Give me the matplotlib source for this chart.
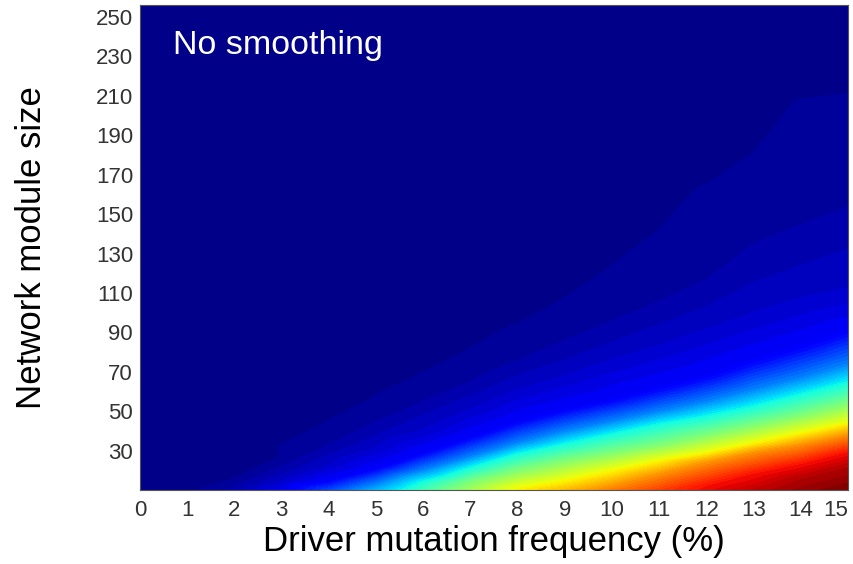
import numpy as np
import matplotlib.pyplot as plt
import matplotlib.tri as mtri

plt.rcParams["font.family"] = ["Liberation Sans", "DejaVu Sans"]

# Columns of the map (driver mutation frequency, %)
freq = [0, 1, 2, 3, 4, 5, 6, 7, 8, 9, 10, 11, 12, 13, 14, 15]

# Value along the bottom edge (module size 10) and at the top edge (256)
bottom_size = 10
top_size = 256
bottom_val = [0.0, 0.01, 0.037, 0.095, 0.19, 0.30, 0.425, 0.543, 0.646, 0.71,
              0.775, 0.84, 0.90, 0.94, 0.975, 1.0]
top_val = [0.0, 0.002, 0.004, 0.005, 0.006, 0.006, 0.006, 0.007, 0.007, 0.007,
           0.008, 0.008, 0.008, 0.008, 0.008, 0.008]

# Read-off iso-value heights (network module size) per column; nan = not reached
nan = np.nan
iso_levels = [0.95, 0.89, 0.75, 0.64, 0.5, 0.375, 0.25, 0.11, 0.065, 0.047, 0.031, 0.016]
iso_heights = [
    [nan, nan, nan, nan, nan, nan, nan, nan, nan, nan, nan, nan, nan, nan, 16, 22],
    [nan, nan, nan, nan, nan, nan, nan, nan, nan, nan, nan, nan, 12, 18, 23, 29],
    [nan, nan, nan, nan, nan, nan, nan, nan, nan, nan, 12, 18, 24, 29, 33, 38],
    [nan, nan, nan, nan, nan, nan, nan, nan, 11, 15, 20, 25, 29, 34, 39, 44],
    [nan, nan, nan, nan, nan, nan, nan, 14, 20, 25, 29, 33, 38, 43, 48, 54],
    [nan, nan, nan, nan, nan, nan, 14, 21, 28, 33, 38, 43, 47, 52, 58, 64],
    [nan, nan, nan, nan, nan, 13, 20, 27, 34, 40, 45, 50, 55, 61, 67, 74],
    [nan, nan, nan, nan, 15, 21, 29, 37, 45, 51, 56, 62, 68, 76, 83, 91],
    [nan, nan, nan, 14, 22, 31, 40, 50, 60, 67, 75, 82, 90, 98, 105, 110],
    [nan, nan, nan, 18, 28, 38, 48, 58, 68, 76, 85, 94, 103, 115, 124, 132],
    [nan, nan, 12, 22, 33, 45, 55, 65, 76, 86, 96, 106, 117, 135, 145, 154],
    [nan, 10, 16, 27, 39, 51, 62, 74, 87, 100, 116, 134, 160, 176, 206, 209],
]

yticks = [30, 50, 70, 90, 110, 130, 150, 170, 190, 210, 230, 250]


def main() -> None:
    px, py, pv = [], [], []
    for j, xv in enumerate(freq):
        px.append(xv); py.append(bottom_size); pv.append(bottom_val[j])
        for lev, row in zip(iso_levels, iso_heights):
            if not np.isnan(row[j]):
                px.append(xv); py.append(row[j]); pv.append(lev)
        px.append(xv); py.append(top_size); pv.append(top_val[j])
    px = np.array(px, dtype=float)
    py = np.array(py, dtype=float)
    pv = np.array(pv, dtype=float)

    # triangulate in rescaled space so neighbouring columns connect sensibly
    tri_scaled = mtri.Triangulation(px, py / 18.0)
    tri = mtri.Triangulation(px, py, tri_scaled.triangles)

    fig = plt.figure(figsize=(8.54, 5.64), dpi=100)
    ax = fig.add_axes([0.164, 0.131, 0.829, 0.860])
    ax.tricontourf(tri, pv, levels=np.linspace(0, 1, 65), cmap="jet")

    ax.set_xlim(0, 15)
    ax.set_ylim(bottom_size, top_size)
    ax.set_xticks(freq)
    ax.set_yticks(yticks)
    ax.tick_params(length=0, colors="#333333", labelsize=16)
    ax.tick_params(axis="y", pad=5)
    ax.tick_params(axis="x", pad=7)
    # keep the last x label inside the canvas
    ax.get_xticklabels()[-1].set_horizontalalignment("right")
    for s in ax.spines.values():
        s.set_color("#555555")
        s.set_linewidth(0.8)

    ax.set_xlabel("Driver mutation frequency (%)", fontsize=25)
    ax.set_ylabel("Network module size", fontsize=25)
    ax.xaxis.set_label_coords(0.5, -0.072)
    ax.yaxis.set_label_coords(-0.13, 0.5)
    ax.text(0.046, 0.948, "No smoothing", transform=ax.transAxes,
            color="white", fontsize=24.5, ha="left", va="top")

    fig.savefig("out.png", dpi=100)
    plt.close(fig)


if __name__ == "__main__":
    main()
